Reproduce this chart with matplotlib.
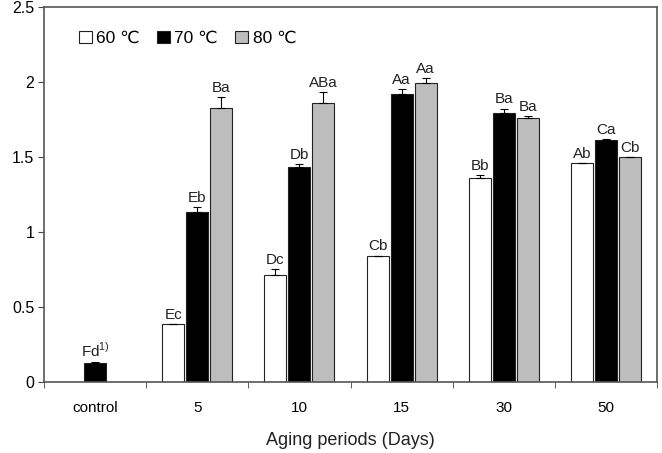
import matplotlib.pyplot as plt
import numpy as np

plt.rcParams['font.family'] = ['Liberation Sans', 'DejaVu Sans']
plt.rcParams['mathtext.fontset'] = 'custom'
plt.rcParams['mathtext.rm'] = 'Liberation Sans'

# datos
periodos = ['control', '5', '10', '15', '30', '50']
series = ['60 \u2103', '70 \u2103', '80 \u2103']

v60 = [np.nan, 0.383, 0.711, 0.838, 1.356, 1.456]
v70 = [0.123, 1.133, 1.433, 1.916, 1.793, 1.611]
v80 = [np.nan, 1.825, 1.856, 1.991, 1.760, 1.496]

e60 = [0, 0.005, 0.040, 0.004, 0.022, 0.003]
e70 = [0.008, 0.030, 0.018, 0.033, 0.029, 0.006]
e80 = [0, 0.076, 0.077, 0.036, 0.011, 0.003]

l60 = ['', 'Ec', 'Dc', 'Cb', 'Bb', 'Ab']
l70 = [r'Fd$^{\mathrm{1)}}$', 'Eb', 'Db', 'Aa', 'Ba', 'Ca']
l80 = ['', 'Ba', 'ABa', 'Aa', 'Ba', 'Cb']

colores = ['white', 'black', '#bdbdbd']

fig = plt.figure(figsize=(6.62, 4.53), dpi=100)
ax = fig.add_axes([0.0665, 0.157, 0.926, 0.828])

x = np.arange(len(periodos))
ancho = 0.215
paso = 0.235

datos = [(v60, e60, l60), (v70, e70, l70), (v80, e80, l80)]
for i, (vals, errs, labs) in enumerate(datos):
    pos = x + (i - 1) * paso
    vals = np.array(vals, dtype=float)
    errs = np.array(errs, dtype=float)
    ax.bar(pos, vals, ancho, color=colores[i], edgecolor='#222222',
           linewidth=0.8, label=series[i], zorder=2)
    ok = ~np.isnan(vals)
    ax.errorbar(pos[ok], vals[ok], yerr=[np.zeros(ok.sum()), errs[ok]],
                fmt='none', ecolor='black', elinewidth=0.8, capsize=3,
                capthick=0.8, zorder=3)
    for p, v, e, t in zip(pos, vals, errs, labs):
        if t:
            ax.annotate(t, (p, v + e), xytext=(0, 1.5), textcoords='offset points',
                        ha='center', va='bottom', fontsize=11, color='#222222')

ax.set_xlim(-0.5, len(periodos) - 0.5)
ax.set_ylim(0, 2.5)
ax.set_yticks([0, 0.5, 1, 1.5, 2, 2.5])
ax.set_yticklabels(['0', '0.5', '1', '1.5', '2', '2.5'], fontsize=11.5)

ax.set_xticks(x)
ax.set_xticklabels(periodos, fontsize=11)
ax.tick_params(axis='x', which='major', length=0, pad=14)
ax.set_xticks(np.arange(len(periodos) + 1) - 0.5, minor=True)
ax.tick_params(axis='x', which='minor', length=4, direction='out', color='#444444')
ax.tick_params(axis='y', length=4, direction='out', color='#444444', pad=3)

for s in ax.spines.values():
    s.set_color('#555555')
    s.set_linewidth(1.2)

ax.set_xlabel('Aging periods (Days)', fontsize=13, labelpad=12, color='#222222')

ax.legend(loc='upper left', bbox_to_anchor=(0.045, 0.955), ncol=3, frameon=False,
          fontsize=12.5, handlelength=0.75, handleheight=0.75, handletextpad=0.25,
          columnspacing=1.0, borderaxespad=0)

fig.savefig('out.png', dpi=100)
